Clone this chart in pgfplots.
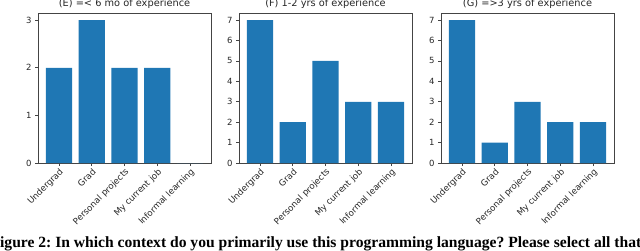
\documentclass[border=0pt]{standalone}
\usepackage{fontspec}
\setmainfont{Liberation Serif}
\newfontfamily\dejavu{DejaVu Sans}
\usepackage{pgfplots}
\pgfplotsset{compat=1.18}
\definecolor{mplblue}{HTML}{1F77B4}
\definecolor{frame}{HTML}{444444}
\pgfplotsset{
  every axis title shift=0pt,
  panel/.style={
    scale only axis, width=173pt, height=150pt,
    ybar, bar width=0.8, ymin=0,
    xmin=-0.64, xmax=4.64,
    xtick={0,1,2,3,4},
    xticklabels={Undergrad,Grad,Personal projects,My current job,Informal learning},
    xticklabel style={rotate=45, anchor=north east, inner sep=1pt, font=\dejavu\fontsize{8.7}{9}\selectfont, text=black!85},
    yticklabel style={font=\dejavu\fontsize{8.5}{9}\selectfont, text=black!85},
    /pgf/number format/assume math mode=true,
    tick align=outside, major tick length=3pt,
    xtick pos=bottom, ytick pos=left,
    tick style={frame, line width=0.6pt},
    axis line style={frame, line width=0.7pt},
    title style={at={(0.5,1)}, anchor=base, yshift=6.5pt, inner sep=0pt, font=\dejavu\fontsize{9.8}{10}\selectfont, text=black!85},
  }
}
\begin{document}
\frenchspacing
\begin{tikzpicture}[x=1pt,y=1pt]
\path[use as bounding box, clip] (0,0) rectangle (640,250);
\begin{axis}[panel, at={(38pt,87pt)}, anchor=south west, ymax=3.15, ytick={0,1,2,3},
  title={(E) =< 6 mo of experience}]
\addplot[fill=mplblue, draw=none] coordinates {(0,2) (1,3) (2,2) (3,2) (4,0)};
\end{axis}
\begin{axis}[panel, at={(239pt,87pt)}, anchor=south west, ymax=7.35, ytick={0,1,...,7},
  title={(F) 1-2 yrs of experience}]
\addplot[fill=mplblue, draw=none] coordinates {(0,7) (1,2) (2,5) (3,3) (4,3)};
\end{axis}
\begin{axis}[panel, at={(441pt,87pt)}, anchor=south west, ymax=7.35, ytick={0,1,...,7},
  title={(G) =>3 yrs of experience}]
\addplot[fill=mplblue, draw=none] coordinates {(0,7) (1,1) (2,3) (3,2) (4,2)};
\end{axis}
\node[anchor=base west, inner sep=0pt, font=\bfseries\fontsize{15.6}{17}\selectfont] at (-9.6,3)
  {Figure 2: In which context do you primarily use this programming language? Please select all that apply.};
\end{tikzpicture}
\end{document}
